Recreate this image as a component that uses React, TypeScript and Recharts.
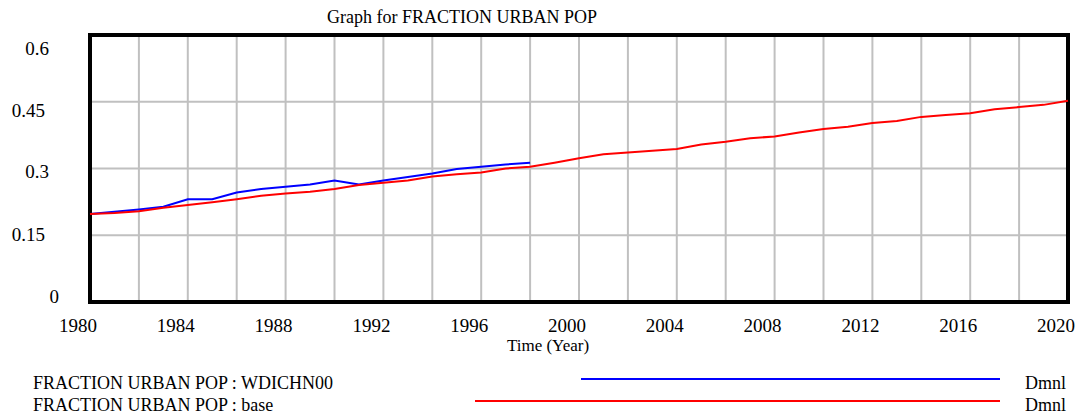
import React from 'react';
import { LineChart, Line, XAxis, YAxis, CartesianGrid, ReferenceArea } from 'recharts';

const years = [
  1980, 1981, 1982, 1983, 1984, 1985, 1986, 1987, 1988, 1989,
  1990, 1991, 1992, 1993, 1994, 1995, 1996, 1997, 1998, 1999,
  2000, 2001, 2002, 2003, 2004, 2005, 2006, 2007, 2008, 2009,
  2010, 2011, 2012, 2013, 2014, 2015, 2016, 2017, 2018, 2019, 2020,
];

const baseValues = [
  0.198, 0.2, 0.204, 0.212, 0.218, 0.224, 0.231, 0.239, 0.244, 0.248,
  0.254, 0.263, 0.268, 0.273, 0.282, 0.287, 0.291, 0.3, 0.304, 0.313,
  0.323, 0.332, 0.336, 0.34, 0.344, 0.354, 0.36, 0.368, 0.372, 0.381,
  0.389, 0.394, 0.402, 0.407, 0.416, 0.42, 0.424, 0.433, 0.438, 0.443, 0.452,
];

const wdiValues = [
  0.198, 0.203, 0.208, 0.214, 0.231, 0.231, 0.246, 0.254, 0.259, 0.264,
  0.273, 0.264, 0.273, 0.281, 0.289, 0.299, 0.304, 0.309, 0.313,
];

const xTicks = [
  1980, 1982, 1984, 1986, 1988, 1990, 1992, 1994, 1996, 1998, 2000,
  2002, 2004, 2006, 2008, 2010, 2012, 2014, 2016, 2018, 2020,
];
const xLabels = [1980, 1984, 1988, 1992, 1996, 2000, 2004, 2008, 2012, 2016, 2020];
const yTicks = [0, 0.15, 0.3, 0.45, 0.6];
const yLabels = ['0', '0.15', '0.3', '0.45', '0.6'];

const seriesNames = ['FRACTION URBAN POP : WDICHN00', 'FRACTION URBAN POP : base'];
const unitLabel = 'Dmnl';
const chartTitle = 'Graph for FRACTION URBAN POP';
const xAxisTitle = 'Time (Year)';

const data = years.map((year, i) => ({
  year,
  base: baseValues[i],
  wdi: i < wdiValues.length ? wdiValues[i] : null,
}));

const FONT = 'Liberation Serif, Times New Roman, serif';

const yLabelStyle: Record<string, { right: number; dy: number }> = {
  '0.6': { right: 49, dy: 13 },
  '0.45': { right: 45, dy: 9 },
  '0.3': { right: 49, dy: 3 },
  '0.15': { right: 45, dy: -1 },
  '0': { right: 59, dy: -6 },
};

const YTick = (props: any) => {
  const { y, payload } = props;
  const idx = yTicks.indexOf(payload.value);
  const label = idx >= 0 ? yLabels[idx] : String(payload.value);
  const st = yLabelStyle[label] || { right: 49, dy: 0 };
  return (
    <text x={st.right} y={y + st.dy} textAnchor="end" dominantBaseline="central"
      style={{ fontFamily: FONT, fontSize: 19 }} fill="#000">
      {label}
    </text>
  );
};

const XTick = (props: any) => {
  const { x, y, payload } = props;
  if (!xLabels.includes(payload.value)) return <g />;
  return (
    <text x={x - 12} y={y + 15} textAnchor="middle" dominantBaseline="central"
      style={{ fontFamily: FONT, fontSize: 19 }} fill="#000">
      {payload.value}
    </text>
  );
};

const colors = ['#0000ff', '#ff0000'];
const legendLines = [
  { start: 581, y: 379, textY: 383 },
  { start: 475, y: 401, textY: 405 },
];

export default function App() {
  return (
    <div style={{ position: 'absolute', left: 0, top: 0, width: 1077, height: 414, background: '#fff', fontFamily: FONT }}>
      <div style={{ position: 'absolute', left: 327, top: 17, transform: 'translateY(-50%)', fontSize: 18, whiteSpace: 'nowrap', color: '#000', fontFamily: FONT }}>
        {chartTitle}
      </div>
      <LineChart width={1077} height={414} data={data} style={{ fontFamily: FONT }}
        margin={{ top: 35, right: 9, bottom: 82, left: 0 }}>
        <CartesianGrid stroke="#c0c0c0" strokeWidth={2} />
        <XAxis dataKey="year" type="number" domain={[1980, 2020]} ticks={xTicks}
          axisLine={false} tickLine={false} height={30} tick={<XTick />} interval={0} />
        <YAxis type="number" domain={[0, 0.6]} ticks={yTicks} width={90}
          axisLine={false} tickLine={false} tick={<YTick />} interval={0} />
        <Line type="linear" dataKey="wdi" stroke={colors[0]} strokeWidth={2} dot={false}
          isAnimationActive={false} connectNulls={false} />
        <Line type="linear" dataKey="base" stroke={colors[1]} strokeWidth={2} dot={false}
          isAnimationActive={false} />
        <ReferenceArea x1={1980} x2={2020} y1={0} y2={0.6} fill="none" stroke="#000"
          strokeWidth={4} ifOverflow="visible" />
      </LineChart>
      <div style={{ position: 'absolute', left: 548, top: 346, transform: 'translate(-50%, -50%)', fontSize: 17, whiteSpace: 'nowrap', fontFamily: FONT }}>
        {xAxisTitle}
      </div>
      {seriesNames.map((name, i) => (
        <React.Fragment key={name}>
          <div style={{ position: 'absolute', left: 33, top: legendLines[i].textY, transform: 'translateY(-50%)', fontSize: 18, whiteSpace: 'nowrap', fontFamily: FONT }}>
            {name}
          </div>
          <div style={{ position: 'absolute', left: legendLines[i].start, top: legendLines[i].y - 1, width: 1000 - legendLines[i].start, height: 2, background: colors[i] }} />
          <div style={{ position: 'absolute', left: 1025, top: legendLines[i].textY, transform: 'translateY(-50%)', fontSize: 18, whiteSpace: 'nowrap', fontFamily: FONT }}>
            {unitLabel}
          </div>
        </React.Fragment>
      ))}
    </div>
  );
}
